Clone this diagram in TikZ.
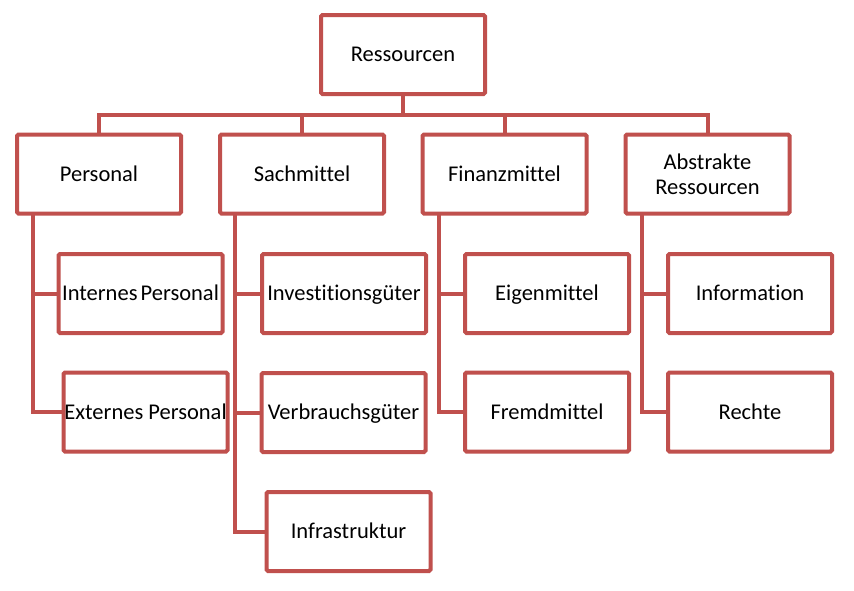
\documentclass[tikz,border=0pt]{standalone}
\usepackage{fontspec}
\setmainfont{Carlito}[Ligatures=NoCommon]
\definecolor{boxred}{HTML}{C0504D}
\begin{document}
\begin{tikzpicture}[x=1pt,y=-1pt,
  boxbase/.style={draw=boxred,line width=4pt,fill=white,rounded corners=1.5pt,
    minimum width=164pt,minimum height=79pt,inner sep=0pt,outer sep=0pt,
    align=center,font=\fontsize{22.5}{25}\selectfont},
  box/.style={boxbase,text height=15pt,text depth=0.5pt},
  conn/.style={draw=boxred,line width=4pt}]
\useasboundingbox (0,0) rectangle (854,590);
\fill[white] (0,0) rectangle (854,590);
\coordinate (bar) at (0,115);
\node[box] (R) at (403,54.5) {Ressourcen};
\node[box] (P) at (99,174) {Personal};
\node[box] (S) at (302,174) {Sachmittel};
\node[box] (F) at (504.5,174) {Finanzmittel};
\node[boxbase] (A) at (707.5,174) {Abstrakte\\Ressourcen};
\node[box] (Int) at (140.5,293.5) {Internes\hspace{-2pt} Personal};
\node[box] (Ext) at (145.5,412) {Externes Personal};
\node[box] (Inv) at (344,293.5) {Investitionsgüter};
\node[box] (Ver) at (343.5,412.5) {Verbrauchsgüter};
\node[box] (Inf) at (348.5,531.5) {Infrastruktur};
\node[box] (Eig) at (547,293.5) {Eigenmittel};
\node[box] (Fre) at (547,412) {Fremdmittel};
\node[box] (Info) at (750,293.5) {Information};
\node[box] (Re) at (750,412) {Rechte};
\coordinate (Pd) at ([xshift=16pt]P.south west);
\coordinate (Sd) at ([xshift=15pt]S.south west);
\coordinate (Fd) at ([xshift=16pt]F.south west);
\coordinate (Ad) at ([xshift=16pt]A.south west);
\foreach \X in {P,S,F,A}{
  \draw[conn] (R.south) -- (R.south |- bar) -| (\X.north);
}
\draw[conn] (Pd) |- (Int.west);
\draw[conn] (Pd) |- (Ext.west);
\draw[conn] (Sd) |- (Inv.west);
\draw[conn] (Sd) |- (Ver.west);
\draw[conn] (Sd) |- (Inf.west);
\draw[conn] (Fd) |- (Eig.west);
\draw[conn] (Fd) |- (Fre.west);
\draw[conn] (Ad) |- (Info.west);
\draw[conn] (Ad) |- (Re.west);
\end{tikzpicture}
\end{document}
